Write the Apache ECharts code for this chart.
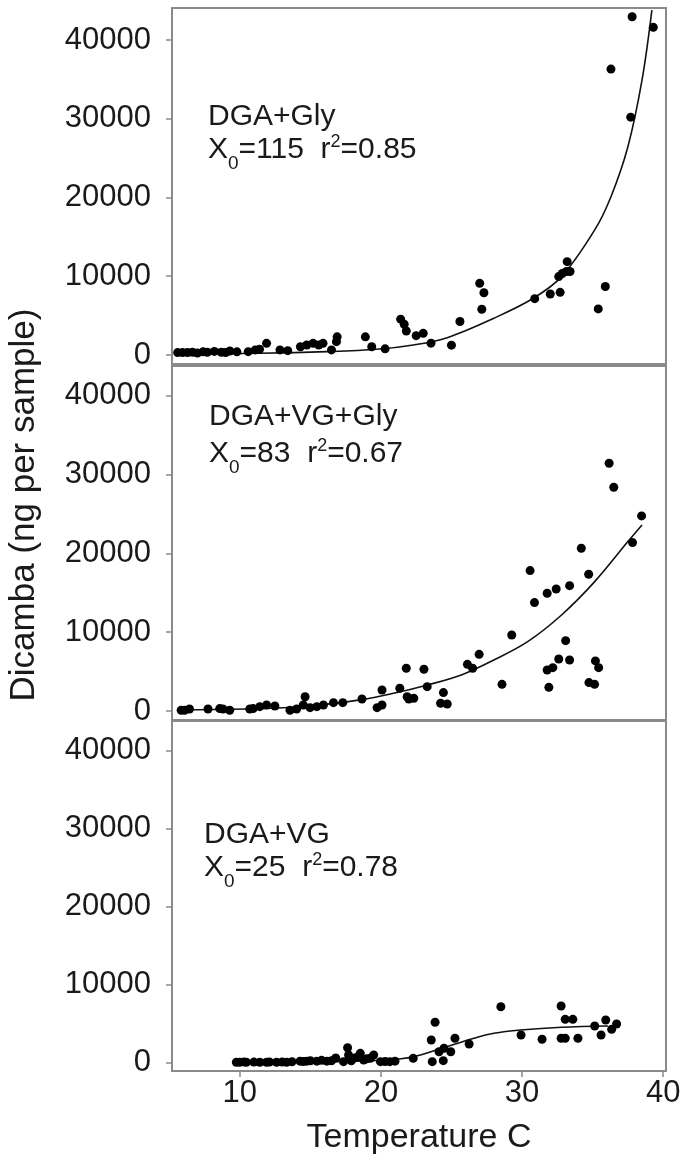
<!DOCTYPE html>
<html><head><meta charset="utf-8">
<script src="https://cdn.jsdelivr.net/npm/echarts@6/dist/echarts.min.js"></script>
<style>html,body{margin:0;padding:0;background:#fff}#c{width:696px;height:1166px}</style>
</head><body><div id="c"></div>
<script>
// ---------- DATA ----------
const xTicks = [10, 20, 30, 40];
const yTicks = [0, 10000, 20000, 30000, 40000];
const panelLabels = ['DGA+Gly', 'DGA+VG+Gly', 'DGA+VG'];
const panelX0 = ['115', '83', '25'];
const panelR2 = ['0.85', '0.67', '0.78'];

// Panel 1: DGA+Gly
const gly_T = [5.6,5.95,6.3,6.65,7.0,7.4,7.7,8.2,8.7,9.0,9.3,9.8,10.6,11.1,11.4,11.9,12.85,13.4,14.3,14.75,15.2,15.6,15.9,16.5,16.9,16.85,18.9,19.35,20.3,21.4,21.65,21.8,22.5,23.0,23.55,25.0,25.6,27.0,27.3,27.15,30.9,32.0,32.7,32.6,32.85,33.15,33.4,33.2,35.4,35.9,36.3,37.7,37.8,39.3];
const gly_V = [300,300,300,350,250,400,350,450,350,300,500,400,420,640,720,1480,640,550,1050,1270,1480,1270,1480,640,2300,1690,2300,1050,780,4550,3900,3050,2450,2750,1500,1250,4250,9100,7900,5800,7150,7750,7950,9950,10350,10600,10600,11850,5850,8700,36300,30200,42950,41600];
const glyFit_T = [5.5,11.4,16.2,19.7,22.3,24.7,28.0,30.8,32.8,35.15,36.3,37.5,38.5,39.2];
const glyFit_V = [130,210,420,720,1270,2200,4660,7200,9950,15880,20100,26450,34900,43800];

// Panel 2: DGA+VG+Gly
const vgGly_T = [36.17,36.5,38.47,37.83,34.2,30.57,34.72,33.37,32.42,31.78,30.88,29.27,33.09,32.6,33.37,31.78,32.18,31.9,35.2,35.43,34.74,35.14,28.58,26.96,26.13,26.5,23.28,24.43,24.23,24.7,21.8,23.05,21.34,21.86,22.33,21.98,20.08,19.73,20.08,18.66,17.3,16.64,15.93,15.46,14.98,14.63,14.5,14.03,13.56,12.49,11.9,11.42,10.95,10.71,9.29,8.81,8.58,7.75,6.44,6.09,5.85];
const vgGly_V = [31430,28390,24750,21360,20640,17810,17340,15900,15480,14930,13750,9640,8920,6600,6470,5200,5500,3000,6350,5500,3600,3380,3380,7190,5920,5420,3090,2330,980,890,5420,5290,2880,1810,1610,1520,2660,420,760,1520,1060,1060,760,550,420,1810,760,250,90,640,760,550,300,250,90,250,300,250,250,90,90];
const vgGlyFit_T = [5.8,13.8,18.5,20.9,23.3,25.7,28.0,30.4,32.8,35.15,37.5,38.5];
const vgGlyFit_V = [130,470,1400,2240,3300,4570,6470,8800,12180,16410,21490,23600];

// Panel 3: DGA+VG
const vg_T = [28.5,32.77,33.06,33.6,35.93,35.15,36.7,36.35,35.6,29.93,31.42,32.77,33.06,33.96,23.84,23.57,25.25,26.25,24.47,24.95,24.12,23.64,24.42,22.29,20.63,19.97,19.49,18.54,19.25,18.78,17.64,17.71,18.06,17.35,16.17,15.46,14.75,14.27,13.32,12.61,11.9,11.42,10.47,10.0,9.76,10.3,11.0,12.1,13.0,13.7,14.5,15.0,15.8,16.5,16.8,17.9,18.3,19.0,20.3,21.0];
const vg_V = [7180,7270,5560,5560,5470,4700,4960,4280,3550,3550,3000,3130,3130,3130,5180,2910,3130,2400,1850,1410,1410,130,260,560,130,130,990,1200,560,350,1920,990,560,130,200,200,200,200,60,60,60,60,60,60,60,100,80,90,80,120,150,250,300,250,600,250,700,500,150,200];
const vgFit_T = [9.76,16.2,20.4,22.3,24.5,26.6,28.0,29.9,32.8,36.1];
const vgFit_V = [50,130,340,770,1970,3130,3770,4190,4540,4700];

// ---------- CHART ----------
const FONT = '"Liberation Sans", Arial, sans-serif';
const pairs = (a, b) => a.map((v, i) => [v, b[i]]);
const grids = [
  {left: 172, right: 30, top: 8, height: 358},
  {left: 172, right: 30, top: 364, height: 357},
  {left: 172, right: 30, top: 720, height: 351}
].map(g => Object.assign(g, {show: true, borderColor: '#8a8a8a', borderWidth: 2, backgroundColor: 'transparent'}));
const yRanges = [[-1400, 44060], [-1270, 44020], [-1064, 43940]];

const xAxes = [0, 1, 2].map(i => ({
  type: 'value', gridIndex: i, min: 5.2, max: 40.2,
  axisLine: {show: true, onZero: false, lineStyle: {color: '#8a8a8a', width: 2}},
  axisTick: {show: i === 2, customValues: xTicks, length: 6, lineStyle: {color: '#8a8a8a', width: 1.5}},
  axisLabel: {show: i === 2, customValues: xTicks, margin: 7, fontSize: 31, color: '#1a1a1a', fontFamily: FONT,
    formatter: v => String(v)},
  splitLine: {show: false},
  name: i === 2 ? 'Temperature C' : '', nameLocation: 'middle', nameGap: 50,
  nameTextStyle: {fontSize: 34, color: '#1a1a1a', fontFamily: FONT}
}));
const yAxes = [0, 1, 2].map(i => ({
  type: 'value', gridIndex: i, min: yRanges[i][0], max: yRanges[i][1],
  axisLine: {show: true, onZero: false, lineStyle: {color: '#8a8a8a', width: 2}},
  axisTick: {show: true, customValues: yTicks, length: 6, lineStyle: {color: '#8a8a8a', width: 1.5}},
  axisLabel: {show: true, customValues: yTicks, margin: 21, fontSize: 31, color: '#1a1a1a', fontFamily: FONT,
    formatter: v => String(Math.round(v))},
  splitLine: {show: false}
}));

const sets = [[gly_T, gly_V, glyFit_T, glyFit_V], [vgGly_T, vgGly_V, vgGlyFit_T, vgGlyFit_V], [vg_T, vg_V, vgFit_T, vgFit_V]];
const series = [];
sets.forEach((s, i) => {
  series.push({type: 'line', xAxisIndex: i, yAxisIndex: i, data: pairs(s[2], s[3]), smooth: 0.35,
    showSymbol: false, lineStyle: {color: '#111', width: 1.6}, z: 2, silent: true, clip: true});
  series.push({type: 'scatter', xAxisIndex: i, yAxisIndex: i, data: pairs(s[0], s[1]), symbol: 'circle', symbolSize: 9,
    itemStyle: {color: '#000', opacity: 1}, z: 3, silent: true});
});

// annotation text
const annPos = [[208, 116.7, 149.7], [209, 416.4, 453.7], [204, 835, 868]];
const graphics = [];
annPos.forEach((p, i) => {
  graphics.push({type: 'text', style: {text: panelLabels[i], x: p[0], y: p[1], fill: '#1a1a1a',
    font: '30px ' + FONT, align: 'left', verticalAlign: 'middle', textAlign: 'left', textVerticalAlign: 'middle'}});
  graphics.push({type: 'text', style: {
    text: '{m|X}{sub|0}{m|=' + panelX0[i] + '  r}{sup|2}{m|=' + panelR2[i] + '}',
    x: p[0], y: p[2], fill: '#1a1a1a', font: '30px ' + FONT,
    align: 'left', verticalAlign: 'middle', textAlign: 'left', textVerticalAlign: 'middle',
    rich: {
      m: {fontSize: 30, fontFamily: FONT, fill: '#1a1a1a'},
      sub: {fontSize: 19, fontFamily: FONT, fill: '#1a1a1a', padding: [28, 0, 0, 0]},
      sup: {fontSize: 18, fontFamily: FONT, fill: '#1a1a1a', padding: [0, 0, 16, 0]}
    }}});
});
graphics.push({type: 'text', x: 24, y: 505, rotation: Math.PI / 2,
  style: {text: 'Dicamba (ng per sample)', x: 0, y: 0, fill: '#1a1a1a', font: '35px ' + FONT,
    align: 'center', verticalAlign: 'middle', textAlign: 'center', textVerticalAlign: 'middle'}});

const chart = echarts.init(document.getElementById('c'), null, {renderer: 'canvas'});
chart.setOption({
  animation: false,
  backgroundColor: '#fff',
  grid: grids, xAxis: xAxes, yAxis: yAxes, series: series, graphic: graphics
});
</script></body></html>
